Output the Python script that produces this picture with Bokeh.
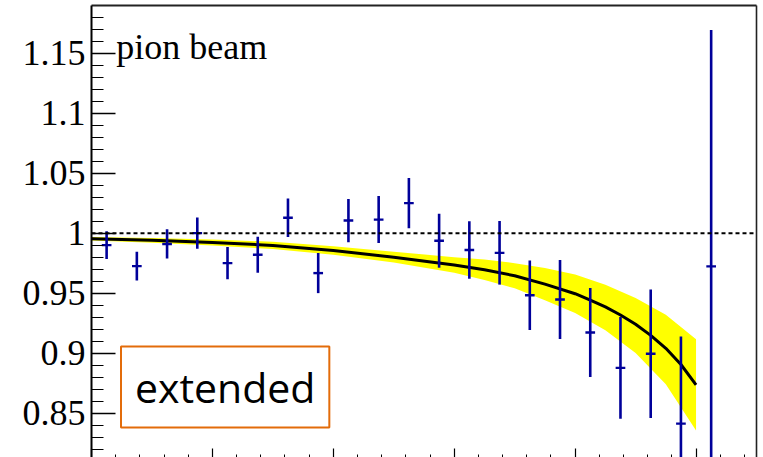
from bokeh.plotting import figure
from bokeh.models import (ColumnDataSource, Range1d, LinearAxis, FixedTicker,
                          Span, Label, BoxAnnotation, CustomLabelingPolicy)
from bokeh.embed import file_html
from bokeh.resources import INLINE

# --- measured ratio per bin (bin width 0.25) ---------------------------------
bin_centers = [0.125, 0.375, 0.625, 0.875, 1.125, 1.375, 1.625, 1.875, 2.125,
               2.375, 2.625, 2.875, 3.125, 3.375, 3.625, 3.875, 4.125, 4.375,
               4.625, 4.875, 5.125]
ratio = [0.990, 0.9725, 0.991, 1.000, 0.975, 0.982, 1.0128, 0.9667, 1.0105,
         1.0113, 1.025, 0.9937, 0.986, 0.9836, 0.9483, 0.9447, 0.9172, 0.8877,
         0.8995, 0.8412, 0.9723]
ratio_err = [0.0115, 0.012, 0.0122, 0.013, 0.0135, 0.015, 0.016, 0.0167, 0.018,
             0.0196, 0.021, 0.0225, 0.024, 0.0265, 0.029, 0.033, 0.037, 0.0425,
             0.0536, 0.0727, 0.197]

# --- fit curve and its uncertainty band ---------------------------------------
fit_x = [0.0, 0.5, 1.0, 1.5, 2.0, 2.5, 3.0, 3.25, 3.5, 3.75, 4.0, 4.125, 4.25,
         4.375, 4.5, 4.625, 4.75, 4.875, 5.0]
fit_y = [0.9953, 0.9940, 0.9922, 0.9898, 0.9855, 0.9800, 0.9735, 0.9695,
         0.9645, 0.9575, 0.9495, 0.9442, 0.9385, 0.9318, 0.9240, 0.9148,
         0.9040, 0.8905, 0.8736]

band_x = [0.0, 0.5, 1.0, 1.5, 2.0, 2.5, 3.0, 3.25, 3.5, 3.75, 4.0, 4.25, 4.5,
          4.75, 5.0]
band_hi = [0.9968, 0.9960, 0.9947, 0.9928, 0.9890, 0.9845, 0.9800, 0.9780,
           0.9750, 0.9710, 0.9655, 0.9570, 0.9460, 0.9320, 0.9116]
band_lo = [0.9938, 0.9920, 0.9897, 0.9868, 0.9820, 0.9755, 0.9670, 0.9610,
           0.9540, 0.9440, 0.9335, 0.9190, 0.9000, 0.8740, 0.8356]

# --- axis ticks ------------------------------------------------------------
y_ticks = [0.85, 0.9, 0.95, 1.0, 1.05, 1.1, 1.15]
y_tick_labels = ["0.85", "0.9", "0.95", "1", "1.05", "1.1", "1.15"]
y_minor = [round(0.81 + 0.01 * k, 2) for k in range(39)]
x_ticks = [0, 1, 2, 3, 4, 5]
x_minor = [round(0.2 * k, 1) for k in range(28)]

BLUE = "#00009a"
SERIF = "Liberation Serif"

p = figure(width=763, height=457, x_range=Range1d(0, 5.5),
           y_range=Range1d(0.813, 1.18975),
           output_backend="svg", toolbar_location=None,
           x_axis_location=None, y_axis_location=None,
           min_border_left=91, min_border_right=7, min_border_top=5,
           min_border_bottom=0)
p.grid.visible = False
p.outline_line_color = None
p.background_fill_color = "white"
p.border_fill_color = "white"

yaxis = LinearAxis(ticker=FixedTicker(ticks=y_ticks, minor_ticks=y_minor),
                   major_label_overrides=dict(zip(y_ticks, y_tick_labels)),
                   major_tick_in=24, major_tick_out=0,
                   minor_tick_in=12, minor_tick_out=0,
                   axis_line_width=2, major_tick_line_width=1.5,
                   minor_tick_line_width=1,
                   major_label_text_font=SERIF,
                   major_label_text_font_size="36px",
                   major_label_text_color="black",
                   major_label_standoff=6)
p.add_layout(yaxis, "left")

# bottom axis: ticks only, the tick labels lie below the visible area
hide_all = CustomLabelingPolicy(code="""
    for (const i of Array.from(indices)) { indices.unset(i) }
    return indices
""")
xaxis = LinearAxis(ticker=FixedTicker(ticks=x_ticks, minor_ticks=x_minor),
                   major_tick_in=9, major_tick_out=0,
                   minor_tick_in=3, minor_tick_out=0,
                   major_tick_line_width=1.2, minor_tick_line_width=1,
                   axis_line_color=None,
                   major_label_policy=hide_all,
                   major_label_text_font_size="0px",
                   major_label_standoff=0)
p.add_layout(xaxis, "below")

top_border = LinearAxis(ticker=FixedTicker(ticks=[]), axis_line_width=1.8,
                        major_tick_in=0, major_tick_out=0,
                        minor_tick_in=0, minor_tick_out=0,
                        major_label_text_font_size="1px",
                        major_label_standoff=0, axis_line_color="#222222")
p.add_layout(top_border, "above")
right_border = LinearAxis(ticker=FixedTicker(ticks=[]), axis_line_width=1.6,
                          major_tick_in=0, major_tick_out=0,
                          minor_tick_in=0, minor_tick_out=0,
                          major_label_text_font_size="1px",
                          major_label_standoff=0, axis_line_color="#222222")
p.add_layout(right_border, "right")

# uncertainty band and fit
p.varea(x=band_x, y1=band_lo, y2=band_hi, fill_color="#ffff00")
p.add_layout(Span(location=1.0, dimension="width", line_color="black",
                  line_dash="4 3", line_width=2))
p.line(fit_x, fit_y, line_color="black", line_width=3)

# data points with vertical error bars and short horizontal markers
half_tick = 0.04
src = ColumnDataSource(dict(
    x=bin_centers,
    y=ratio,
    lo=[r - e for r, e in zip(ratio, ratio_err)],
    hi=[r + e for r, e in zip(ratio, ratio_err)],
    xl=[x - half_tick for x in bin_centers],
    xr=[x + half_tick for x in bin_centers],
))
p.segment(x0="x", y0="lo", x1="x", y1="hi", source=src,
          line_color=BLUE, line_width=2.6)
p.segment(x0="xl", y0="y", x1="xr", y1="y", source=src,
          line_color=BLUE, line_width=2.4)

# annotations
p.add_layout(Label(x=0.205, y=1.1555, text="pion beam", text_font=SERIF,
                   text_font_size="36px", text_color="black",
                   text_baseline="alphabetic"))

p.add_layout(BoxAnnotation(left=0.244, right=1.967, top=0.9056, bottom=0.8381,
                           fill_color="white", fill_alpha=1.0,
                           line_color="#e36c0a", line_alpha=1.0, line_width=2))
p.add_layout(Label(x=1.106, y=0.8718, text="extended", text_font="Open Sans",
                   text_font_size="41px", text_color="black",
                   text_align="center", text_baseline="middle"))

p.add_layout(Label(x=-0.695, y=1.0135, text="-", text_font=SERIF,
                   text_font_size="36px", text_color="black",
                   text_align="right", text_baseline="alphabetic"))

open("out.html", "w").write(file_html(p, INLINE))
